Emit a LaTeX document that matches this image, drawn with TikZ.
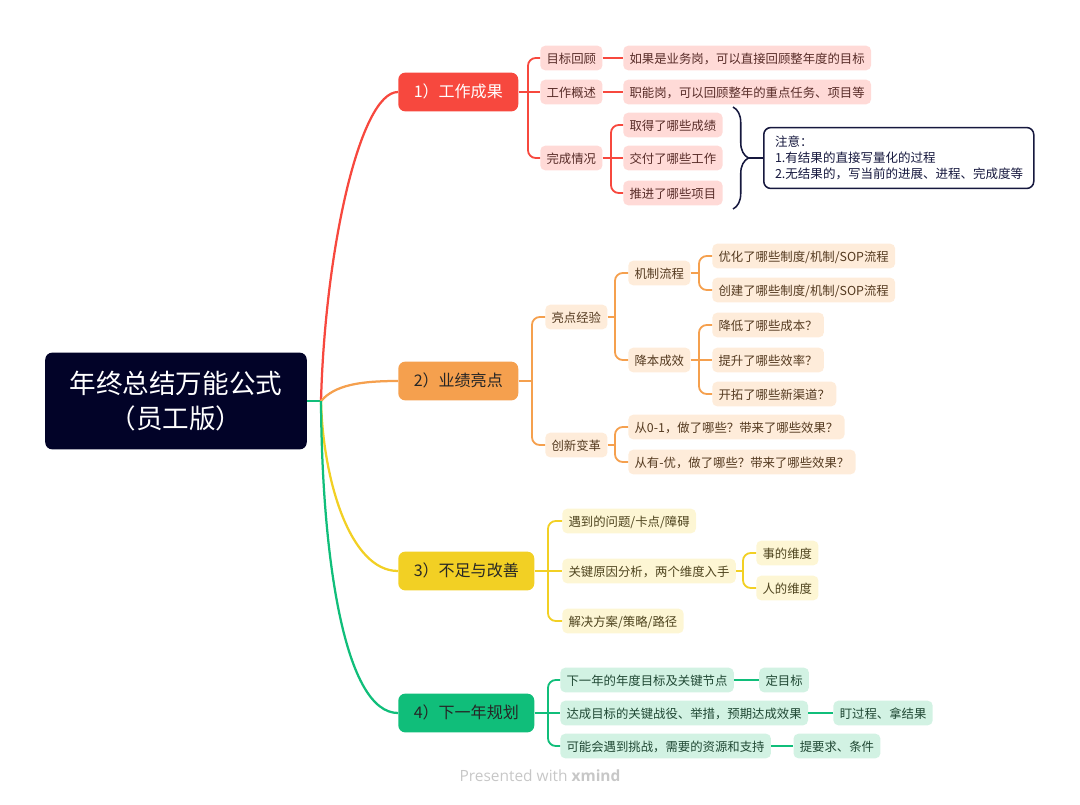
\documentclass[tikz,border=0pt]{standalone}
\usepackage{fontspec}
\newfontfamily\cjk{Noto Sans CJK SC}
\newfontfamily\xmfont{Open Sans}
\usetikzlibrary{positioning, calc, decorations.pathreplacing}
\definecolor{rootblue}{RGB}{2, 3, 40}
\definecolor{notenavy}{RGB}{22, 24, 62}
\definecolor{red1}{RGB}{247, 72, 62}
\definecolor{redlt}{RGB}{255, 218, 215}
\definecolor{redtx}{RGB}{88, 44, 40}
\definecolor{orange1}{RGB}{245, 160, 78}
\definecolor{orangelt}{RGB}{254, 236, 218}
\definecolor{orangetx}{RGB}{84, 58, 32}
\definecolor{yellow1}{RGB}{242, 208, 36}
\definecolor{yellowlt}{RGB}{253, 246, 212}
\definecolor{yellowtx}{RGB}{78, 68, 30}
\definecolor{green1}{RGB}{16, 190, 122}
\definecolor{greenlt}{RGB}{210, 242, 227}
\definecolor{greentx}{RGB}{32, 72, 52}
\tikzset{
  rootnode/.style={rounded corners=5pt, fill=rootblue, text=white, minimum width=186pt, minimum height=68.8pt, align=center, font=\cjk\fontsize{18.9}{25.5}\selectfont},
  mainnode/.style={rounded corners=5pt, minimum height=27.6pt, inner xsep=11pt, inner ysep=0pt, text height=0.8em, text depth=0.08em, font=\cjk\fontsize{11.4}{13}\selectfont, anchor=west},
  redmain/.style={mainnode, fill=red1, text=white},
  orangemain/.style={mainnode, fill=orange1, text=black!85},
  yellowmain/.style={mainnode, fill=yellow1, text=black!85},
  greenmain/.style={mainnode, fill=green1, text=black!85},
  topic/.style={rounded corners=3.5pt, minimum height=17.5pt, inner xsep=4.5pt, inner ysep=0pt, text height=0.8em, text depth=0.08em, font=\cjk\fontsize{8.8}{10}\selectfont, anchor=west},
  redtopic/.style={topic, fill=redlt, text=redtx},
  orangetopic/.style={topic, fill=orangelt, text=orangetx},
  yellowtopic/.style={topic, fill=yellowlt, text=yellowtx},
  greentopic/.style={topic, fill=greenlt, text=greentx},
  notebox/.style={draw=notenavy, line width=1.1pt, rounded corners=5pt, fill=white, text=notenavy, align=left, text width=176pt, inner xsep=8pt, inner ysep=6pt, font=\cjk\fontsize{8.9}{11.4}\selectfont, anchor=west},
  rootcurve/.style={line width=1.6pt},
  redlink/.style={draw=red1, line width=1.3pt, rounded corners=5.5pt},
  orangelink/.style={draw=orange1, line width=1.3pt, rounded corners=5.5pt},
  yellowlink/.style={draw=yellow1, line width=1.3pt, rounded corners=5.5pt},
  greenlink/.style={draw=green1, line width=1.3pt, rounded corners=5.5pt},
}

\begin{document}
\begin{tikzpicture}[x=0.025cm, y=-0.025cm, node distance=0.62cm]
  \useasboundingbox (0,0) rectangle (1080,804);

  % root and main topics
  \node[rootnode] (root) at (176,401) {年终总结万能公式\\（员工版）};
  \node[redmain] (b1) at (398,92) {1）工作成果};
  \node[orangemain] (b2) at (398,381) {2）业绩亮点};
  \node[yellowmain] (b3) at (398,571) {3）不足与改善};
  \node[greenmain] (b4) at (398,713) {4）下一年规划};

  \coordinate (rj) at (321,401);
  \draw[green1, rootcurve] (root.east) -- (rj);
  \draw[red1, rootcurve] (rj) .. controls (325,250) and (360,92) .. (b1.west);
  \draw[orange1, rootcurve] (rj) .. controls (335,385) and (360,381) .. (b2.west);
  \draw[yellow1, rootcurve] (rj) .. controls (323,480) and (350,571) .. (b3.west);
  \draw[green1, rootcurve] (rj) .. controls (322,560) and (345,713) .. (b4.west);

  % 1) work results
  \node[redtopic] (c11) at (540,58) {目标回顾};
  \node[redtopic] (c12) at (540,92) {工作概述};
  \node[redtopic] (c13) at (540,158) {完成情况};
  \node[redtopic] (d11) at (623,58) {如果是业务岗，可以直接回顾整年度的目标};
  \node[redtopic] (d12) at (623,92) {职能岗，可以回顾整年的重点任务、项目等};
  \node[redtopic] (d131) at (623,125) {取得了哪些成绩};
  \node[redtopic] (d132) at (623,158) {交付了哪些工作};
  \node[redtopic] (d133) at (623,193) {推进了哪些项目};
  \coordinate (j1) at (528,92);
  \coordinate (j13) at (611,158);
  \draw[redlink] (b1.east) -- (j1) -- (c12.west);
  \foreach \c in {c11,c13} \draw[redlink] (j1) |- (\c.west);
  \draw[redlink] (c11.east) -- (d11.west);
  \draw[redlink] (c12.east) -- (d12.west);
  \draw[redlink] (c13.east) -- (j13) -- (d132.west);
  \foreach \c in {d131,d133} \draw[redlink] (j13) |- (\c.west);

  % note with brace
  \coordinate (brtop) at (733,107);
  \coordinate (brbot) at (733,209);
  \coordinate (brtip) at (748,158);
  \draw[notenavy, line width=1.1pt, decorate, decoration={brace, amplitude=11pt}] (brtop) -- (brbot);
  \node[notebox] (note) at (763,158) {注意：\\1.有结果的直接写量化的过程\\2.无结果的，写当前的进展、进程、完成度等};
  \draw[notenavy, line width=1.1pt] (brtip) -- (note.west);

  % 2) highlights
  \node[orangetopic] (c21) at (545,317) {亮点经验};
  \node[orangetopic] (c22) at (545,445) {创新变革};
  \node[orangetopic] (c211) at (628,273) {机制流程};
  \node[orangetopic] (c212) at (628,360) {降本成效};
  \node[orangetopic] (d2111) at (712,256) {优化了哪些制度/机制/SOP流程};
  \node[orangetopic] (d2112) at (712,290) {创建了哪些制度/机制/SOP流程};
  \node[orangetopic] (d2121) at (712,325) {降低了哪些成本？};
  \node[orangetopic] (d2122) at (712,360) {提升了哪些效率？};
  \node[orangetopic] (d2123) at (712,394) {开拓了哪些新渠道？};
  \node[orangetopic] (d221) at (628,427) {从0-1，做了哪些？带来了哪些效果？};
  \node[orangetopic] (d222) at (628,462) {从有-优，做了哪些？带来了哪些效果？};
  \coordinate (j2) at (532,381);
  \coordinate (j21) at (615,317);
  \coordinate (j211) at (699,273);
  \coordinate (j212) at (699,360);
  \coordinate (j22) at (615,445);
  \draw[orangelink] (b2.east) -- (j2);
  \foreach \c in {c21,c22} \draw[orangelink] (j2) |- (\c.west);
  \draw[orangelink] (c21.east) -- (j21);
  \foreach \c in {c211,c212} \draw[orangelink] (j21) |- (\c.west);
  \draw[orangelink] (c211.east) -- (j211);
  \foreach \c in {d2111,d2112} \draw[orangelink] (j211) |- (\c.west);
  \draw[orangelink] (c212.east) -- (j212) -- (d2122.west);
  \foreach \c in {d2121,d2123} \draw[orangelink] (j212) |- (\c.west);
  \draw[orangelink] (c22.east) -- (j22);
  \foreach \c in {d221,d222} \draw[orangelink] (j22) |- (\c.west);

  % 3) shortcomings
  \node[yellowtopic] (c31) at (562,521) {遇到的问题/卡点/障碍};
  \node[yellowtopic] (c32) at (562,571) {关键原因分析，两个维度入手};
  \node[yellowtopic] (c33) at (562,621) {解决方案/策略/路径};
  \node[yellowtopic] (d321) at (756,553) {事的维度};
  \node[yellowtopic] (d322) at (756,588) {人的维度};
  \coordinate (j3) at (548,571);
  \coordinate (j32) at (743,571);
  \draw[yellowlink] (b3.east) -- (j3) -- (c32.west);
  \foreach \c in {c31,c33} \draw[yellowlink] (j3) |- (\c.west);
  \draw[yellowlink] (c32.east) -- (j32);
  \foreach \c in {d321,d322} \draw[yellowlink] (j32) |- (\c.west);

  % 4) next year plan
  \node[greentopic] (c41) at (560,680) {下一年的年度目标及关键节点};
  \node[greentopic] (c42) at (560,713) {达成目标的关键战役、举措，预期达成效果};
  \node[greentopic] (c43) at (560,746) {可能会遇到挑战，需要的资源和支持};
  \node[greentopic, right=of c41, anchor=west] (d41) {定目标};
  \node[greentopic, right=of c42, anchor=west] (d42) {盯过程、拿结果};
  \node[greentopic, right=0.55cm of c43, anchor=west] (d43) {提要求、条件};
  \coordinate (j4) at (548,713);
  \draw[greenlink] (b4.east) -- (j4) -- (c42.west);
  \foreach \c in {c41,c43} \draw[greenlink] (j4) |- (\c.west);
  \foreach \i/\j in {c41/d41,c42/d42,c43/d43} \draw[greenlink] (\i.east) -- (\j.west);

  \node[font=\xmfont\fontsize{11}{13}\selectfont, text=black!22] (credit) at (540,776) {Presented with \textbf{xmind}};
\end{tikzpicture}
\end{document}
